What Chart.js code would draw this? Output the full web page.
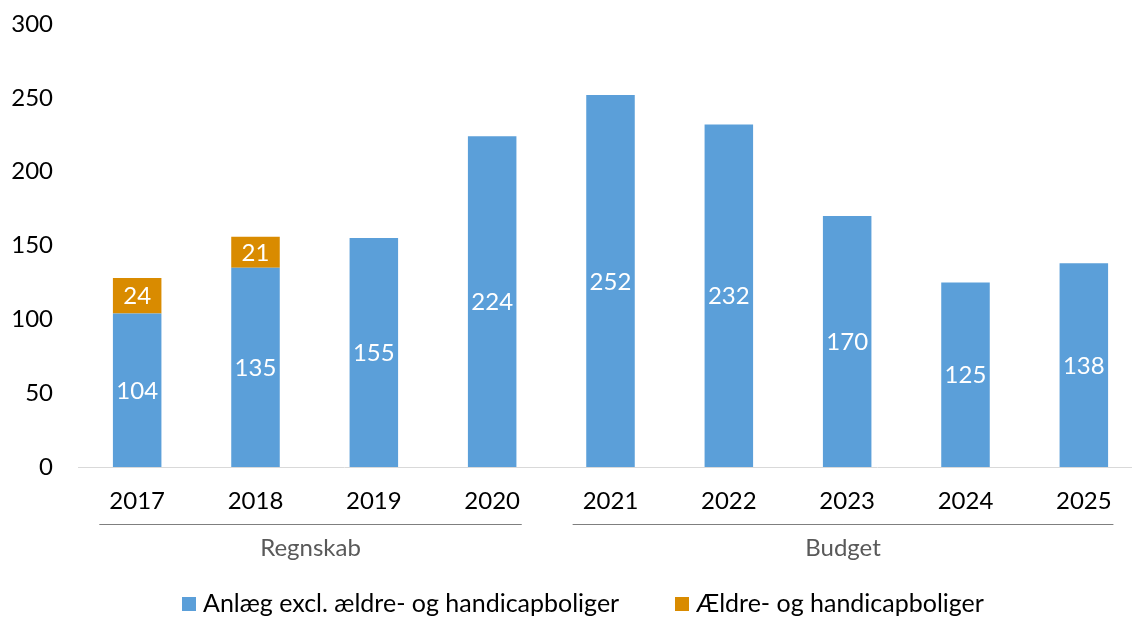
<!DOCTYPE html>
<html>
<head>
<meta charset="utf-8">
<script src="https://cdn.jsdelivr.net/npm/chart.js@4/dist/chart.umd.min.js"></script>
<style>
  html, body { margin: 0; padding: 0; background: #fff; overflow: hidden; }
  #wrap { width: 1146px; height: 617px; }
</style>
</head>
<body>
<div id="wrap"><canvas id="chart"></canvas></div>
<script>
const years = ["2017", "2018", "2019", "2020", "2021", "2022", "2023", "2024", "2025"];
const anlaeg = [104, 135, 155, 224, 252, 232, 170, 125, 138];
const aeldre = [24, 21, null, null, null, null, null, null, null];
const seriesNames = ["Anlæg excl. ældre- og handicapboliger", "Ældre- og handicapboliger"];
const groupNames = ["Regnskab", "Budget"];
const groupRanges = [[0, 3], [4, 8]]; // first and last category index per group
const yTicks = [0, 50, 100, 150, 200, 250, 300];

const FONT = "Lato, 'Noto Sans', sans-serif";

// white value labels centred in each bar segment
const valueLabels = {
  id: "valueLabels",
  afterDatasetsDraw(chart) {
    const ctx = chart.ctx;
    ctx.save();
    ctx.font = "24px " + FONT;
    ctx.fillStyle = "#ffffff";
    ctx.textAlign = "center";
    ctx.textBaseline = "middle";
    chart.data.datasets.forEach((ds, i) => {
      chart.getDatasetMeta(i).data.forEach((bar, j) => {
        const v = ds.data[j];
        if (v == null) return;
        ctx.fillText(String(v), bar.x, (bar.y + bar.base) / 2 + 1);
      });
    });
    ctx.restore();
  }
};

// group lines + names under the years, and the legend
const extras = {
  id: "extras",
  afterDraw(chart) {
    const ctx = chart.ctx;
    const x = chart.scales.x;
    const step = x.getPixelForValue(1) - x.getPixelForValue(0);
    ctx.save();
    groupRanges.forEach((r, i) => {
      const x0 = x.getPixelForValue(r[0]) - 0.32 * step;
      const x1 = x.getPixelForValue(r[1]) + 0.25 * step;
      ctx.strokeStyle = "#7f7f7f";
      ctx.lineWidth = 1;
      ctx.beginPath();
      ctx.moveTo(x0, 524.5);
      ctx.lineTo(x1, 524.5);
      ctx.stroke();
      ctx.fillStyle = "#595959";
      ctx.font = "24px " + FONT;
      ctx.textAlign = "center";
      ctx.textBaseline = "middle";
      ctx.fillText(groupNames[i], (x0 + x1) / 2, 548);
    });

    // legend
    const legendX = [182, 675];
    ctx.font = "25px " + FONT;
    ctx.textAlign = "left";
    ctx.textBaseline = "middle";
    chart.data.datasets.forEach((ds, i) => {
      ctx.fillStyle = ds.backgroundColor;
      ctx.fillRect(legendX[i], 597, 14, 14);
      ctx.fillStyle = "#000000";
      ctx.fillText(ds.label, legendX[i] + 21, 604);
    });
    ctx.restore();
  }
};

new Chart(document.getElementById("chart"), {
  type: "bar",
  data: {
    labels: years,
    datasets: [
      {
        label: seriesNames[0],
        data: anlaeg,
        backgroundColor: "#5b9fd9",
        barPercentage: 0.41,
        categoryPercentage: 1
      },
      {
        label: seriesNames[1],
        data: aeldre,
        backgroundColor: "#d98b00",
        barPercentage: 0.41,
        categoryPercentage: 1
      }
    ]
  },
  options: {
    responsive: true,
    maintainAspectRatio: false,
    animation: false,
    layout: { padding: { top: 24, right: 3, bottom: 0, left: 0 } },
    plugins: {
      legend: { display: false },
      tooltip: { enabled: false }
    },
    scales: {
      x: {
        stacked: true,
        grid: { display: true, drawOnChartArea: false, drawTicks: false },
        border: { display: true, color: "#d9d9d9", width: 1 },
        ticks: {
          color: "#000000",
          font: { family: FONT, size: 24 },
          padding: 20,
          maxRotation: 0
        },
        afterFit: (scale) => { scale.height = 150; }
      },
      y: {
        stacked: true,
        min: 0,
        max: 300,
        grid: { display: false, drawTicks: false },
        border: { display: false },
        afterBuildTicks: (scale) => { scale.ticks = yTicks.map((v) => ({ value: v })); },
        ticks: {
          color: "#000000",
          font: { family: FONT, size: 24 },
          padding: 25
        },
        afterFit: (scale) => {
          scale.width = 78;
          scale.paddingTop = 0;
          scale.paddingBottom = 0;
        }
      }
    }
  },
  plugins: [valueLabels, extras]
});
</script>
</body>
</html>
